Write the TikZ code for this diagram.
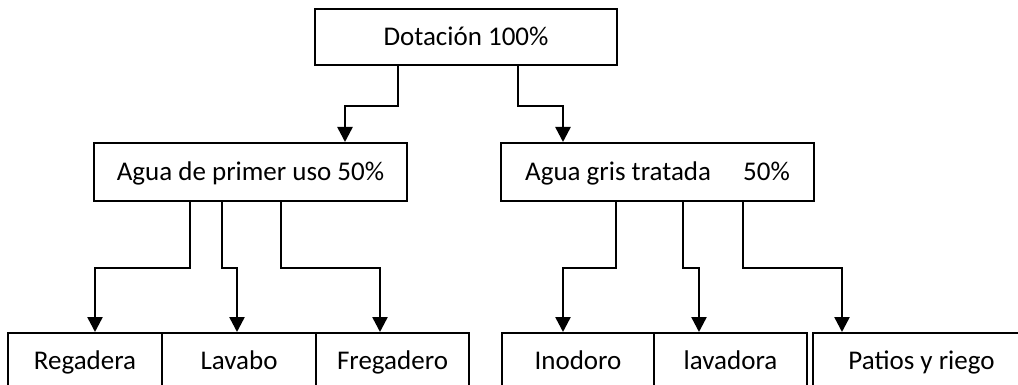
\documentclass[tikz,border=0pt]{standalone}
\usepackage{fontspec}
\setmainfont{Carlito}
\usetikzlibrary{arrows.meta}
\begin{document}
\begin{tikzpicture}[x=1pt,y=-1pt,
  box/.style={draw, line width=2pt, inner sep=0pt, text height=17.4pt, text depth=0pt, font=\fontsize{27}{31}\selectfont},
  conn/.style={line width=2.5pt, -{Triangle[width=15pt,length=15pt]}}]
\useasboundingbox (0,0) rectangle (1018,385);
\clip (0,0) rectangle (1018,385);
% boxes
\node[box, minimum width=302pt, minimum height=56pt] (top) at (466,37) {Dotación 100\%};
\node[box, minimum width=313pt, minimum height=58pt] (midL) at (250.5,172) {Agua de primer uso 50\%};
\node[box, minimum width=313pt, minimum height=58pt] (midR) at (657.5,172) {Agua gris tratada\hspace{26pt} 50\%};
\node[box, minimum width=154pt, minimum height=55pt] (reg) at (85,360.5) {Regadera};
\node[box, minimum width=154pt, minimum height=55pt] (lav) at (239,360.5) {Lavabo};
\node[box, minimum width=153pt, minimum height=55pt] (fre) at (392.5,360.5) {Fregadero};
\node[box, minimum width=152pt, minimum height=55pt] (ino) at (578,360.5) {Inodoro};
\node[box, minimum width=153pt, minimum height=55pt] (lvd) at (730.5,360.5) {lavadora};
\node[box, minimum width=217pt, minimum height=55pt] (pat) at (921.5,360.5) {Patios y riego};
% bend coordinates
\coordinate (t1) at (398,106);
\coordinate (t1b) at (345,106);
\coordinate (t2) at (518,106);
\coordinate (t2b) at (563,106);
\coordinate (a1) at (190,268);
\coordinate (a1b) at (95,268);
\coordinate (a2) at (222,268);
\coordinate (a2b) at (237,268);
\coordinate (a3) at (281,268);
\coordinate (a3b) at (380,268);
\coordinate (b1) at (616,268);
\coordinate (b1b) at (563,268);
\coordinate (b2) at (683,268);
\coordinate (b2b) at (699,268);
\coordinate (b3) at (743,268);
\coordinate (b3b) at (842,268);
% connectors
\draw[conn] (top.south -| t1) -- (t1) -- (t1b) -- (midL.north -| t1b);
\draw[conn] (top.south -| t2) -- (t2) -- (t2b) -- (midR.north -| t2b);
\draw[conn] (midL.south -| a1) -- (a1) -- (a1b) -- (reg.north -| a1b);
\draw[conn] (midL.south -| a2) -- (a2) -- (a2b) -- (lav.north -| a2b);
\draw[conn] (midL.south -| a3) -- (a3) -- (a3b) -- (fre.north -| a3b);
\draw[conn] (midR.south -| b1) -- (b1) -- (b1b) -- (ino.north -| b1b);
\draw[conn] (midR.south -| b2) -- (b2) -- (b2b) -- (lvd.north -| b2b);
\draw[conn] (midR.south -| b3) -- (b3) -- (b3b) -- (pat.north -| b3b);
\end{tikzpicture}
\end{document}
